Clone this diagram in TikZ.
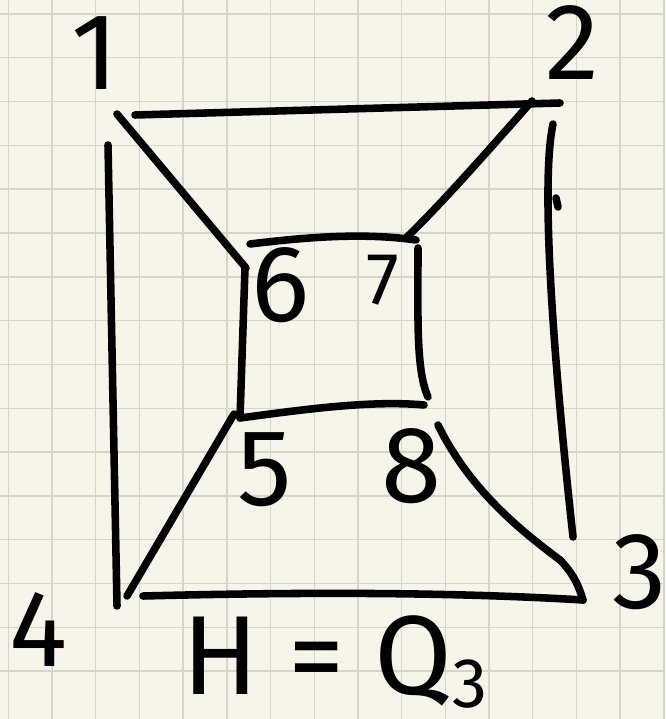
\documentclass[tikz,border=0pt]{standalone}
\usepackage{fontspec}
\setmainfont{Fira Sans}
\usetikzlibrary{positioning,calc}

\definecolor{paper}{RGB}{247,245,234}
\definecolor{gridline}{RGB}{214,213,200}

\begin{document}
\begin{tikzpicture}[
  x=0.02cm, y=-0.02cm,
  edge/.style={line width=4.3pt, line cap=round, line join=round},
  lbl/.style={inner sep=0pt, font=\fontsize{62}{62}\selectfont},
  small lbl/.style={inner sep=0pt, font=\fontsize{42}{42}\selectfont},
  title/.style={inner sep=0pt, font=\fontsize{64}{64}\selectfont},
]
% paper and grid
\fill[paper] (0,0) rectangle (665,719);
\useasboundingbox (0,0) rectangle (665,719);
\foreach \k in {0,...,15} {
  \draw[gridline, line width=0.8pt] (8.3+43.7*\k,0) -- (8.3+43.7*\k,719);
  \draw[gridline, line width=0.8pt] (0,14+43.8*\k) -- (665,14+43.8*\k);
}
% vertices
\coordinate (v1) at (117,114);
\coordinate (v2) at (548,103);
\coordinate (v3) at (583,600);
\coordinate (v4) at (117,606);
\coordinate (v5) at (240,418);
\coordinate (v6) at (246,250);
\coordinate (v7) at (416,240);
\coordinate (v8) at (424,405);
% labels
\node[lbl] (l1) at (95,53) {1};
\node[lbl] (l2) at (572,43) {2};
\node[lbl] (l3) at (640,572) {3};
\node[lbl] (l4) at (38,630) {4};
\node[lbl] (l5) at (265,470) {5};
\node[lbl] (l6) at (281,285) {6};
\node[small lbl] (l7) at (383,280) {7};
\node[lbl] (l8) at (412,466) {8};
\node[title] (name) at (335,662)
  {H = Q\raisebox{-0.12em}{\fontsize{40}{40}\selectfont 3}};
% outer square
\draw[edge] ($(v1)+(18,1)$) -- ($(v2)+(12,0)$);
\draw[edge] ($(v1)+(-9,31)$) -- (v4);
\draw[edge] ($(v2)+(5,21)$) .. controls (543,170) and (547,300) .. ($(v3)+(-10,-63)$);
\draw[edge] ($(v4)+(26,-10)$) .. controls (300,592) and (450,592) .. (v3);
% inner square
\draw[edge] ($(v6)+(4,-6)$) .. controls (300,238) and (360,232) .. (v7);
\draw[edge] ($(v6)+(-1,18)$) -- (v5);
\draw[edge] ($(v7)+(2,8)$) .. controls (418,320) and (416,370) .. ($(v8)+(4,-8)$);
\draw[edge] (v5) .. controls (300,410) and (370,400) .. (v8);
% spokes
\draw[edge] (v1) -- ($(v6)+(0,18)$);
\draw[edge] ($(v2)+(-16,-2)$) .. controls (480,160) and (440,205) .. ($(v7)+(-10,-2)$);
\draw[edge] ($(v5)+(-6,-4)$) -- ($(v4)+(10,-10)$);
\draw[edge] ($(v8)+(14,20)$) .. controls (470,490) and (520,530) .. (560,560)
  .. controls (575,575) and (580,590) .. (v3);
% stray mark
\draw[edge] (556,198) -- (558,207);
\end{tikzpicture}
\end{document}
